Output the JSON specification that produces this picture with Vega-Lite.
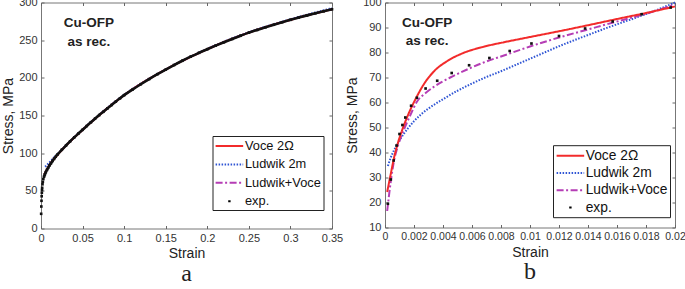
{
  "$schema": "https://vega.github.io/schema/vega-lite/v6.json",
  "padding": {"left": 1, "top": -4.5, "right": 0, "bottom": 0},
  "spacing": 1,
  "config": {
    "font": "Liberation Sans",
    "view": {"stroke": "#777777", "strokeWidth": 1},
    "axis": {"grid": false, "domain": false, "tickSize": -3, "tickColor": "#666666", "labelFont": "Liberation Sans", "labelFontSize": 11, "labelColor": "#333333", "labelPadding": 7, "labelOverlap": false, "labelFlush": false, "titleFont": "Liberation Sans", "titleFontSize": 14, "titleFontWeight": "normal", "titleColor": "#222222", "titlePadding": 3},
    "legend": {"title": null, "symbolType": "M-1,0H3", "symbolSize": 190, "symbolStrokeWidth": 2, "labelFont": "Liberation Sans", "labelColor": "#111111", "strokeColor": "#222222", "strokeWidth": 1, "fillColor": "white"},
    "title": {"font": "Liberation Serif", "fontSize": 24, "fontWeight": "normal", "orient": "bottom", "frame": "group", "anchor": "middle", "offset": 1, "color": "#222222"}
  },
  "datasets": {
    "a_models": [
      {"series": "Ludwik 2m", "strain": 0.005, "stress": 82},
      {"series": "Ludwik 2m", "strain": 0.01, "stress": 87.5},
      {"series": "Ludwik 2m", "strain": 0.015, "stress": 93.5},
      {"series": "Ludwik 2m", "strain": 0.02, "stress": 99},
      {"series": "Ludwik 2m", "strain": 0.03, "stress": 110.5},
      {"series": "Ludwik 2m", "strain": 0.05, "stress": 131.5},
      {"series": "Ludwik 2m", "strain": 0.075, "stress": 155.5},
      {"series": "Ludwik 2m", "strain": 0.1, "stress": 177.5},
      {"series": "Ludwik 2m", "strain": 0.15, "stress": 211.2},
      {"series": "Ludwik 2m", "strain": 0.2, "stress": 238.5},
      {"series": "Ludwik 2m", "strain": 0.25, "stress": 260.5},
      {"series": "Ludwik 2m", "strain": 0.3, "stress": 277.7},
      {"series": "Ludwik 2m", "strain": 0.35, "stress": 292.5},
      {"series": "Ludwik+Voce", "strain": 0.004, "stress": 71},
      {"series": "Ludwik+Voce", "strain": 0.01, "stress": 84},
      {"series": "Ludwik+Voce", "strain": 0.02, "stress": 98.3},
      {"series": "Ludwik+Voce", "strain": 0.03, "stress": 110},
      {"series": "Ludwik+Voce", "strain": 0.05, "stress": 131},
      {"series": "Ludwik+Voce", "strain": 0.1, "stress": 177},
      {"series": "Ludwik+Voce", "strain": 0.15, "stress": 211},
      {"series": "Ludwik+Voce", "strain": 0.2, "stress": 238},
      {"series": "Ludwik+Voce", "strain": 0.25, "stress": 260},
      {"series": "Ludwik+Voce", "strain": 0.3, "stress": 277},
      {"series": "Ludwik+Voce", "strain": 0.35, "stress": 291},
      {"series": "Voce 2Ω", "strain": 0.004, "stress": 72},
      {"series": "Voce 2Ω", "strain": 0.006, "stress": 76},
      {"series": "Voce 2Ω", "strain": 0.01, "stress": 84},
      {"series": "Voce 2Ω", "strain": 0.015, "stress": 91.5},
      {"series": "Voce 2Ω", "strain": 0.02, "stress": 98},
      {"series": "Voce 2Ω", "strain": 0.03, "stress": 110},
      {"series": "Voce 2Ω", "strain": 0.05, "stress": 131},
      {"series": "Voce 2Ω", "strain": 0.075, "stress": 155},
      {"series": "Voce 2Ω", "strain": 0.1, "stress": 177},
      {"series": "Voce 2Ω", "strain": 0.15, "stress": 211},
      {"series": "Voce 2Ω", "strain": 0.2, "stress": 238},
      {"series": "Voce 2Ω", "strain": 0.25, "stress": 260},
      {"series": "Voce 2Ω", "strain": 0.3, "stress": 277},
      {"series": "Voce 2Ω", "strain": 0.35, "stress": 291}
    ],
    "a_exp": [
      {"strain": 0.0002, "stress": 19.5},
      {"strain": 0.0004, "stress": 29.2},
      {"strain": 0.0006, "stress": 36.8},
      {"strain": 0.0008, "stress": 42.8},
      {"strain": 0.001, "stress": 47.4},
      {"strain": 0.0012, "stress": 51},
      {"strain": 0.0014, "stress": 54},
      {"strain": 0.0018, "stress": 58.7},
      {"strain": 0.0022, "stress": 61.9},
      {"strain": 0.0028, "stress": 65.6},
      {"strain": 0.0036, "stress": 68.7},
      {"strain": 0.0046, "stress": 71.8},
      {"strain": 0.0058, "stress": 74.9},
      {"strain": 0.0072, "stress": 77.8},
      {"strain": 0.0086, "stress": 80.6},
      {"strain": 0.0101, "stress": 83.6},
      {"strain": 0.012, "stress": 86.6},
      {"strain": 0.0138, "stress": 89.6},
      {"strain": 0.0157, "stress": 92.4},
      {"strain": 0.0177, "stress": 95.3},
      {"strain": 0.0197, "stress": 98},
      {"strain": 0.025, "stress": 104.5},
      {"strain": 0.03, "stress": 110},
      {"strain": 0.035, "stress": 115.7},
      {"strain": 0.04, "stress": 121},
      {"strain": 0.045, "stress": 126},
      {"strain": 0.05, "stress": 131},
      {"strain": 0.055, "stress": 136},
      {"strain": 0.06, "stress": 141},
      {"strain": 0.065, "stress": 145.8},
      {"strain": 0.07, "stress": 150.5},
      {"strain": 0.075, "stress": 155},
      {"strain": 0.08, "stress": 159.5},
      {"strain": 0.085, "stress": 164},
      {"strain": 0.09, "stress": 168.5},
      {"strain": 0.095, "stress": 172.8},
      {"strain": 0.1, "stress": 177},
      {"strain": 0.11, "stress": 184.4},
      {"strain": 0.12, "stress": 191.5},
      {"strain": 0.13, "stress": 198.3},
      {"strain": 0.14, "stress": 204.8},
      {"strain": 0.15, "stress": 211},
      {"strain": 0.16, "stress": 217},
      {"strain": 0.17, "stress": 222.7},
      {"strain": 0.18, "stress": 228.1},
      {"strain": 0.19, "stress": 233.2},
      {"strain": 0.2, "stress": 238},
      {"strain": 0.21, "stress": 242.7},
      {"strain": 0.22, "stress": 247.2},
      {"strain": 0.23, "stress": 251.6},
      {"strain": 0.24, "stress": 255.9},
      {"strain": 0.25, "stress": 260},
      {"strain": 0.26, "stress": 263.6},
      {"strain": 0.27, "stress": 267.1},
      {"strain": 0.28, "stress": 270.5},
      {"strain": 0.29, "stress": 273.8},
      {"strain": 0.3, "stress": 277},
      {"strain": 0.31, "stress": 280},
      {"strain": 0.32, "stress": 282.9},
      {"strain": 0.33, "stress": 285.7},
      {"strain": 0.34, "stress": 288.4},
      {"strain": 0.35, "stress": 291}
    ],
    "b_models": [
      {"series": "Ludwik 2m", "strain": 0.0002, "stress": 34.6},
      {"series": "Ludwik 2m", "strain": 0.0004, "stress": 38},
      {"series": "Ludwik 2m", "strain": 0.0006, "stress": 40.6},
      {"series": "Ludwik 2m", "strain": 0.0008, "stress": 42.8},
      {"series": "Ludwik 2m", "strain": 0.001, "stress": 44.8},
      {"series": "Ludwik 2m", "strain": 0.0013, "stress": 47.5},
      {"series": "Ludwik 2m", "strain": 0.0016, "stress": 49.8},
      {"series": "Ludwik 2m", "strain": 0.002, "stress": 52.5},
      {"series": "Ludwik 2m", "strain": 0.0025, "stress": 55.3},
      {"series": "Ludwik 2m", "strain": 0.003, "stress": 57.6},
      {"series": "Ludwik 2m", "strain": 0.004, "stress": 61.3},
      {"series": "Ludwik 2m", "strain": 0.005, "stress": 64.7},
      {"series": "Ludwik 2m", "strain": 0.006, "stress": 67.6},
      {"series": "Ludwik 2m", "strain": 0.007, "stress": 70.2},
      {"series": "Ludwik 2m", "strain": 0.008, "stress": 72.5},
      {"series": "Ludwik 2m", "strain": 0.009, "stress": 75},
      {"series": "Ludwik 2m", "strain": 0.01, "stress": 77.5},
      {"series": "Ludwik 2m", "strain": 0.011, "stress": 80},
      {"series": "Ludwik 2m", "strain": 0.012, "stress": 82.5},
      {"series": "Ludwik 2m", "strain": 0.013, "stress": 84.8},
      {"series": "Ludwik 2m", "strain": 0.014, "stress": 87},
      {"series": "Ludwik 2m", "strain": 0.015, "stress": 89.2},
      {"series": "Ludwik 2m", "strain": 0.016, "stress": 91.3},
      {"series": "Ludwik 2m", "strain": 0.017, "stress": 93.3},
      {"series": "Ludwik 2m", "strain": 0.018, "stress": 95.4},
      {"series": "Ludwik 2m", "strain": 0.019, "stress": 97.6},
      {"series": "Ludwik 2m", "strain": 0.02, "stress": 100},
      {"series": "Ludwik+Voce", "strain": 0.00015, "stress": 16.6},
      {"series": "Ludwik+Voce", "strain": 0.0004, "stress": 28.5},
      {"series": "Ludwik+Voce", "strain": 0.0006, "stress": 36},
      {"series": "Ludwik+Voce", "strain": 0.0009, "stress": 42.8},
      {"series": "Ludwik+Voce", "strain": 0.0014, "stress": 50.5},
      {"series": "Ludwik+Voce", "strain": 0.00175, "stress": 55},
      {"series": "Ludwik+Voce", "strain": 0.0022, "stress": 60.3},
      {"series": "Ludwik+Voce", "strain": 0.0028, "stress": 63.8},
      {"series": "Ludwik+Voce", "strain": 0.0034, "stress": 66.4},
      {"series": "Ludwik+Voce", "strain": 0.0045, "stress": 70},
      {"series": "Ludwik+Voce", "strain": 0.0057, "stress": 73.3},
      {"series": "Ludwik+Voce", "strain": 0.0068, "stress": 76},
      {"series": "Ludwik+Voce", "strain": 0.0082, "stress": 78.8},
      {"series": "Ludwik+Voce", "strain": 0.01, "stress": 82.4},
      {"series": "Ludwik+Voce", "strain": 0.012, "stress": 86},
      {"series": "Ludwik+Voce", "strain": 0.014, "stress": 89.2},
      {"series": "Ludwik+Voce", "strain": 0.016, "stress": 92.4},
      {"series": "Ludwik+Voce", "strain": 0.018, "stress": 95.5},
      {"series": "Ludwik+Voce", "strain": 0.02, "stress": 99.2},
      {"series": "Voce 2Ω", "strain": 0.00015, "stress": 24.2},
      {"series": "Voce 2Ω", "strain": 0.0004, "stress": 31.5},
      {"series": "Voce 2Ω", "strain": 0.0006, "stress": 37.3},
      {"series": "Voce 2Ω", "strain": 0.0009, "stress": 44},
      {"series": "Voce 2Ω", "strain": 0.0013, "stress": 50.8},
      {"series": "Voce 2Ω", "strain": 0.0017, "stress": 56.5},
      {"series": "Voce 2Ω", "strain": 0.0021, "stress": 61.3},
      {"series": "Voce 2Ω", "strain": 0.0027, "stress": 67.5},
      {"series": "Voce 2Ω", "strain": 0.0034, "stress": 72.6},
      {"series": "Voce 2Ω", "strain": 0.0043, "stress": 76.6},
      {"series": "Voce 2Ω", "strain": 0.0054, "stress": 79.8},
      {"series": "Voce 2Ω", "strain": 0.0068, "stress": 82.3},
      {"series": "Voce 2Ω", "strain": 0.0082, "stress": 84.1},
      {"series": "Voce 2Ω", "strain": 0.01, "stress": 86.2},
      {"series": "Voce 2Ω", "strain": 0.012, "stress": 88.5},
      {"series": "Voce 2Ω", "strain": 0.014, "stress": 90.9},
      {"series": "Voce 2Ω", "strain": 0.016, "stress": 93.4},
      {"series": "Voce 2Ω", "strain": 0.018, "stress": 95.8},
      {"series": "Voce 2Ω", "strain": 0.02, "stress": 98.4}
    ],
    "b_exp": [
      {"strain": 0.0002, "stress": 19.5},
      {"strain": 0.0004, "stress": 29.2},
      {"strain": 0.0006, "stress": 36.8},
      {"strain": 0.0008, "stress": 42.8},
      {"strain": 0.001, "stress": 47.4},
      {"strain": 0.0012, "stress": 51},
      {"strain": 0.0014, "stress": 54},
      {"strain": 0.0018, "stress": 58.7},
      {"strain": 0.0022, "stress": 61.9},
      {"strain": 0.0028, "stress": 65.6},
      {"strain": 0.0036, "stress": 68.7},
      {"strain": 0.0046, "stress": 71.8},
      {"strain": 0.0058, "stress": 74.9},
      {"strain": 0.0072, "stress": 77.8},
      {"strain": 0.0086, "stress": 80.6},
      {"strain": 0.0101, "stress": 83.6},
      {"strain": 0.012, "stress": 86.6},
      {"strain": 0.0138, "stress": 89.6},
      {"strain": 0.0157, "stress": 92.4},
      {"strain": 0.0177, "stress": 95.3},
      {"strain": 0.0197, "stress": 98}
    ],
    "a_text": [
      {"strain": 0.0576, "stress": 272.8, "label": "Cu-OFP"},
      {"strain": 0.0576, "stress": 247.6, "label": "as rec."}
    ],
    "b_text": [
      {"strain": 0.0029, "stress": 92, "label": "Cu-OFP"},
      {"strain": 0.0029, "stress": 84.6, "label": "as rec."}
    ]
  },
  "resolve": {"scale": {"color": "independent", "strokeDash": "independent"}, "legend": {"color": "independent", "strokeDash": "independent"}},
  "hconcat": [
    {
      "width": 291,
      "height": 226,
      "title": {"text": "a"},
      "layer": [
        {
          "data": {"name": "a_models"},
          "mark": {"type": "line", "strokeWidth": 2, "interpolate": "monotone"},
          "encoding": {
            "x": {"field": "strain", "type": "quantitative", "scale": {"domain": [0, 0.35], "nice": false}, "axis": {"orient": "bottom", "title": "Strain", "values": [0, 0.05, 0.1, 0.15, 0.2, 0.25, 0.3, 0.35], "format": "~g"}},
            "y": {"field": "stress", "type": "quantitative", "scale": {"domain": [0, 300], "nice": false}, "axis": {"orient": "left", "title": "Stress, MPa", "values": [0, 50, 100, 150, 200, 250, 300]}},
            "color": {"field": "series", "type": "nominal", "sort": null,
              "scale": {"domain": ["Voce 2Ω", "Ludwik 2m", "Ludwik+Voce", "exp."], "range": ["#f22b2b", "#2f55d4", "#b53db5", "#000000"]},
              "legend": {"orient": "none", "legendX": 171.5, "legendY": 133.5, "labelFontSize": 12.8, "padding": 2, "rowPadding": 3.4, "labelOffset": 14.5}},
            "strokeDash": {"field": "series", "type": "nominal", "sort": null,
              "scale": {"domain": ["Voce 2Ω", "Ludwik 2m", "Ludwik+Voce", "exp."], "range": [[1, 0], [1.5, 1.5], [7, 2.5, 2, 2.5], [0, 12.6, 2.4, 60]]},
              "legend": {"orient": "none", "legendX": 171.5, "legendY": 133.5, "labelFontSize": 12.8, "padding": 2, "rowPadding": 3.4, "labelOffset": 14.5}}
          }
        },
        {
          "data": {"name": "a_exp"},
          "transform": [{"filter": "datum.strain >= 0.0036"}],
          "mark": {"type": "line", "color": "#111111", "strokeWidth": 2.6, "interpolate": "monotone"},
          "encoding": {
            "x": {"field": "strain", "type": "quantitative", "axis": null},
            "y": {"field": "stress", "type": "quantitative", "axis": null}
          }
        },
        {
          "data": {"name": "a_exp"},
          "mark": {"type": "point", "shape": "square", "filled": true, "color": "#111111", "size": 7, "opacity": 1},
          "encoding": {
            "x": {"field": "strain", "type": "quantitative", "axis": null},
            "y": {"field": "stress", "type": "quantitative", "axis": null}
          }
        },
        {
          "data": {"name": "a_text"},
          "mark": {"type": "text", "fontSize": 13.5, "fontWeight": "bold", "align": "center", "baseline": "middle", "color": "#222222"},
          "encoding": {
            "x": {"field": "strain", "type": "quantitative", "axis": {"orient": "top", "labels": false, "title": null, "values": [0, 0.05, 0.1, 0.15, 0.2, 0.25, 0.3, 0.35]}},
            "y": {"field": "stress", "type": "quantitative", "axis": {"orient": "right", "labels": false, "title": null, "values": [0, 50, 100, 150, 200, 250, 300]}},
            "text": {"field": "label"}
          }
        }
      ]
    },
    {
      "width": 290,
      "height": 225,
      "title": {"text": "b"},
      "layer": [
        {
          "data": {"name": "b_models"},
          "mark": {"type": "line", "strokeWidth": 2, "interpolate": "monotone"},
          "encoding": {
            "x": {"field": "strain", "type": "quantitative", "scale": {"domain": [0, 0.02], "nice": false}, "axis": {"orient": "bottom", "title": "Strain", "labelFontSize": 10.5, "values": [0, 0.002, 0.004, 0.006, 0.008, 0.01, 0.012, 0.014, 0.016, 0.018, 0.02], "format": "~g"}},
            "y": {"field": "stress", "type": "quantitative", "scale": {"domain": [10, 100], "nice": false, "zero": false}, "axis": {"orient": "left", "title": "Stress, MPa", "values": [10, 20, 30, 40, 50, 60, 70, 80, 90, 100]}},
            "color": {"field": "series", "type": "nominal", "sort": null,
              "scale": {"domain": ["Voce 2Ω", "Ludwik 2m", "Ludwik+Voce", "exp."], "range": ["#f22b2b", "#2f55d4", "#b53db5", "#000000"]},
              "legend": {"orient": "none", "legendX": 168, "legendY": 142.7, "labelFontSize": 13.8, "padding": 2.5, "rowPadding": 2.3, "labelOffset": 14.2}},
            "strokeDash": {"field": "series", "type": "nominal", "sort": null,
              "scale": {"domain": ["Voce 2Ω", "Ludwik 2m", "Ludwik+Voce", "exp."], "range": [[1, 0], [1.5, 1.5], [7, 2.5, 2, 2.5], [0, 12.6, 2.4, 60]]},
              "legend": {"orient": "none", "legendX": 168, "legendY": 142.7, "labelFontSize": 13.8, "padding": 2.5, "rowPadding": 2.3, "labelOffset": 14.2}}
          }
        },
        {
          "data": {"name": "b_exp"},
          "mark": {"type": "point", "shape": "square", "filled": true, "color": "#111111", "size": 7, "opacity": 1},
          "encoding": {
            "x": {"field": "strain", "type": "quantitative", "axis": null},
            "y": {"field": "stress", "type": "quantitative", "axis": null}
          }
        },
        {
          "data": {"name": "b_text"},
          "mark": {"type": "text", "fontSize": 13.5, "fontWeight": "bold", "align": "center", "baseline": "middle", "color": "#222222"},
          "encoding": {
            "x": {"field": "strain", "type": "quantitative", "axis": {"orient": "top", "labels": false, "title": null, "values": [0, 0.002, 0.004, 0.006, 0.008, 0.01, 0.012, 0.014, 0.016, 0.018, 0.02]}},
            "y": {"field": "stress", "type": "quantitative", "axis": {"orient": "right", "labels": false, "title": null, "values": [10, 20, 30, 40, 50, 60, 70, 80, 90, 100]}},
            "text": {"field": "label"}
          }
        }
      ]
    }
  ]
}
